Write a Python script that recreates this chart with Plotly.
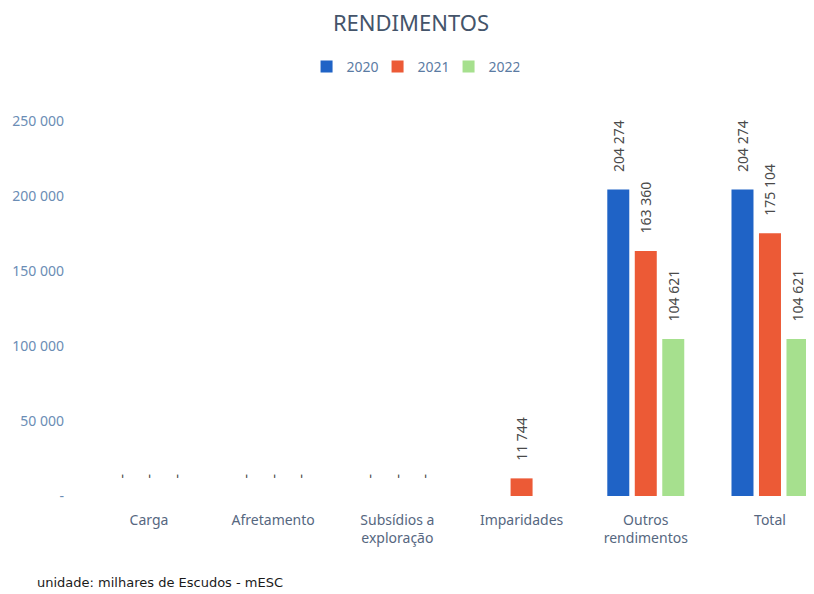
import plotly.graph_objects as go

categories = ["Carga", "Afretamento", "Subsídios a<br>exploração", "Imparidades",
              "Outros<br>rendimentos", "Total"]
years = ["2020", "2021", "2022"]
values_2020 = [0, 0, 0, None, 204274, 204274]
values_2021 = [0, 0, 0, 11744, 163360, 175104]
values_2022 = [0, 0, 0, None, 104621, 104621]
colors = ["#1f63c6", "#ec5a36", "#a6e08e"]

y_ticks = [0, 50000, 100000, 150000, 200000, 250000]
y_ticktext = ["-", "50 000", "100 000", "150 000", "200 000", "250 000"]

PAD = "\u00a0" * 4  # lifts the rotated labels off the bar tops


def label(v):
    if v is None:
        return ""
    if v == 0:
        return PAD + "-"
    return PAD + f"{v:,}".replace(",", " ")


fig = go.Figure()
for year, vals, col in zip(years, [values_2020, values_2021, values_2022], colors):
    fig.add_trace(go.Bar(
        x=categories, y=vals, name=year,
        marker=dict(color=col, line=dict(width=0)),
        text=[label(v) for v in vals],
        textposition="outside", textangle=-90, constraintext="none",
        textfont=dict(size=14, color="#4a4a4a"),
        cliponaxis=False,
    ))

# page body adds an 8px margin, so the figure is drawn smaller than the window
fig.update_layout(
    width=798, height=586,
    margin=dict(l=77, r=0, t=92, b=98, autoexpand=False),
    paper_bgcolor="white", plot_bgcolor="white",
    font=dict(family="Noto Sans, Open Sans, sans-serif"),
    title=dict(text="RENDIMENTOS", x=0.505, xanchor="center", y=1 - 15 / 586, yanchor="middle",
               font=dict(size=22, color="#44546a")),
    legend=dict(orientation="h", x=0.455, xanchor="center", y=1.0 + (92 - 59) / 396,
                yanchor="middle", font=dict(size=14, color="#5b7ba3"),
                entrywidth=26, traceorder="normal"),
    barmode="group", bargap=0.336, bargroupgap=0.2,
    xaxis=dict(range=[-0.515, 5.29], showgrid=False, showline=False, zeroline=False,
               tickfont=dict(size=14, color="#56677f"), ticks="", ticklabelstandoff=14),
    yaxis=dict(range=[0, 264000], showgrid=False, showline=False, zeroline=False,
               tickvals=y_ticks, ticktext=y_ticktext, ticklabelstandoff=20,
               tickfont=dict(size=14, color="#6b8db5")),
    annotations=[dict(
        text="unidade: milhares de Escudos - mESC", xref="paper", yref="paper",
        x=-50 / 721, y=-86 / 396, xanchor="left", yanchor="middle", showarrow=False,
        font=dict(family="DejaVu Sans", size=13, color="#1a1a1a"),
    )],
)

fig.write_html("out.html")
